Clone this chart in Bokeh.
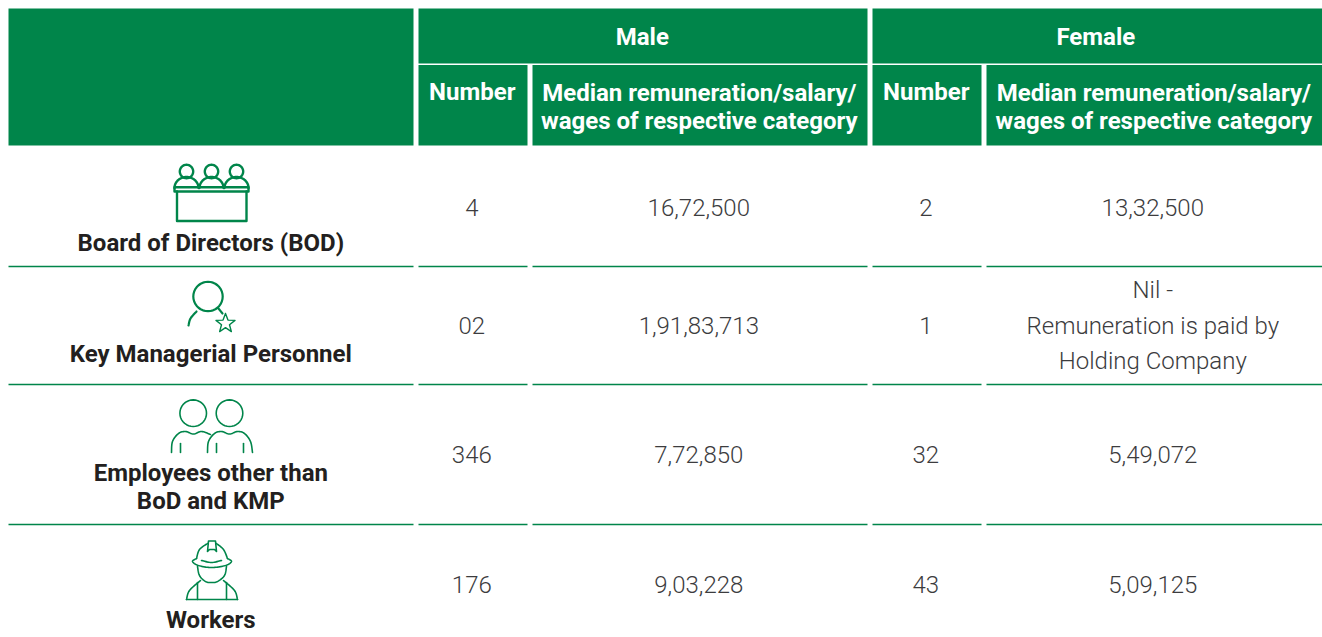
import math
from bokeh.plotting import figure
from bokeh.models import Range1d
from bokeh.core.properties import value
from bokeh.embed import file_html
from bokeh.resources import INLINE

# ---- table content ----
group_labels = ["Male", "Female"]
sub_number = "Number"
sub_median = ["Median remuneration/salary/", "wages of respective category"]
categories = [["Board of Directors (BOD)"], ["Key Managerial Personnel"],
              ["Employees other than", "BoD and KMP"], ["Workers"]]
male_number = ["4", "02", "346", "176"]
male_median = ["16,72,500", "1,91,83,713", "7,72,850", "9,03,228"]
female_number = ["2", "1", "32", "43"]
female_median = [["13,32,500"], ["Nil -", "Remuneration is paid by", "Holding Company"],
                 ["5,49,072"], ["5,09,125"]]

GREEN = "#00854a"
DARK = "#231f20"
GREY = "#3c3c3e"
FONT = "Roboto"
LIGHT_FONT = "Roboto Light, Roboto"
SIZE = 24

# ---- layout, in page pixels ----
col_edges = [(8, 413), (418, 527), (532, 867), (872, 981), (986, 1322)]
row_center = [206.5, 324.5, 453.5, 583.5]
row_rules = [266, 384, 524]
PW, PH = 1322, 637

p = figure(width=PW, height=PH, output_backend="svg", toolbar_location=None,
           x_range=Range1d(0, PW), y_range=Range1d(PH, 0),
           min_border=0, outline_line_color=None, background_fill_color="white",
           border_fill_color="white")
p.xaxis.visible = False
p.yaxis.visible = False
p.grid.visible = False


def label(x, y, s, color, bold=False):
    p.text([x - 0.7], [y], text=[s], text_font=value(FONT if bold else LIGHT_FONT),
           text_font_size=f"{SIZE}px",
           text_color=color, text_align="center", text_baseline="middle",
           text_font_style="bold" if bold else "normal")


def box(l, r, t, b, color=GREEN):
    p.quad(left=[l], right=[r], top=[t], bottom=[b], fill_color=color, line_color=None)


def stroke(xs, ys, w=2.4):
    p.line(xs, ys, line_color=GREEN, line_width=w, line_cap="round", line_join="round")


def arc(cx, cy, rx, ry, a0, a1, n=36):
    xs, ys = [], []
    for i in range(n + 1):
        a = math.radians(a0 + (a1 - a0) * i / n)
        xs.append(cx + rx * math.cos(a))
        ys.append(cy - ry * math.sin(a))
    return xs, ys


def smooth(pts, w=1.8, n=10):
    """Catmull-Rom curve through the given outline points of an icon."""
    P = [pts[0]] + list(pts) + [pts[-1]]
    xs, ys = [], []
    for i in range(1, len(P) - 2):
        for k in range(n + 1):
            t = k / n
            for out, d in ((xs, 0), (ys, 1)):
                a, b, c, e = P[i - 1][d], P[i][d], P[i + 1][d], P[i + 2][d]
                out.append(0.5 * (2 * b + (c - a) * t + (2 * a - 5 * b + 4 * c - e) * t * t
                                  + (3 * b - a - 3 * c + e) * t ** 3))
    stroke(xs, ys, w)


# header
box(8, 413, 8, 145)
box(418, 867, 8, 63)
box(872, 1322, 8, 63)
for l, r in col_edges[1:]:
    box(l, r, 64.5, 145)
label(642.5, 36, group_labels[0], "white", True)
label(1096, 36, group_labels[1], "white", True)
for (l, r) in (col_edges[1], col_edges[3]):
    label((l + r) / 2, 91.5, sub_number, "white", True)
for (l, r) in (col_edges[2], col_edges[4]):
    label((l + r) / 2, 92, sub_median[0], "white", True)
    label((l + r) / 2, 120, sub_median[1], "white", True)

# row rules
for y in row_rules:
    for l, r in col_edges:
        p.line([l, r], [y, y], line_color=GREEN, line_width=1.5)

# category labels
label(211, 242, categories[0][0], DARK, True)
label(211, 353, categories[1][0], DARK, True)
label(211, 472, categories[2][0], DARK, True)
label(211, 500, categories[2][1], DARK, True)
label(211, 619.5, categories[3][0], DARK, True)

# body values
for i in range(4):
    y = row_center[i]
    label(472, y, male_number[i], GREY)
    label(699, y, male_median[i], GREY)
    label(926, y, female_number[i], GREY)
    lines = female_median[i]
    if len(lines) == 1:
        label(1153, y, lines[0], GREY)
    else:
        for k, s in enumerate(lines):
            label(1153, 289.5 + k * 35.5, s, GREY)

# icon: board of directors
for cx in (186, 211, 236):
    stroke(*arc(cx, 171, 6.7, 6.7, 0, 360), 2.4)
    stroke(*arc(cx, 187.5, 12, 11, 0, 180), 2.4)
stroke([174, 248, 248, 174, 174], [186.7, 186.7, 191, 191, 186.7], 2.4)
stroke([176.5, 176.5, 246, 246], [191, 220.5, 220.5, 191], 2.4)

# icon: key managerial personnel
stroke(*arc(207.5, 296, 14.7, 14.7, 0, 360), 2.2)
smooth([(188, 325), (190, 318), (196, 311)], 2.2)
smooth([(218, 308), (222, 313)], 2.2)
star_x, star_y = [], []
for i in range(11):
    r = 10 if i % 2 == 0 else 4.2
    a = math.radians(90 + i * 36)
    star_x.append(225 + r * math.cos(a))
    star_y.append(323 - r * math.sin(a))
stroke(star_x, star_y, 1.4)

# icon: employees
for cx in (192.7, 229):
    stroke(*arc(cx, 412.7, 13.3, 13.3, 0, 360), 1.6)
smooth([(171, 452), (172, 441), (178, 433), (185, 431), (193, 433.5), (201, 431), (210, 434)], 1.6)
smooth([(207, 452), (208, 441), (214, 433), (221, 431), (229, 433.5), (237, 431),
        (244, 433), (250, 441), (252, 452)], 1.6)
for x in (180, 216, 243):
    stroke([x, x], [443, 452], 1.6)

# icon: worker
smooth([(196, 558), (199, 549), (207, 543)], 1.6)
smooth([(216, 543), (223, 549), (227, 558)], 1.6)
smooth([(196, 558), (192, 561), (198, 565), (211, 567), (225, 565), (231, 561), (227, 558)], 1.6)
smooth([(201, 560), (211, 562), (221, 560)], 1.6)
stroke([207, 208, 215, 216, 214, 209, 207], [551, 540.5, 540.5, 551, 549, 549, 551], 1.6)
smooth([(197, 566), (199, 575), (205, 581), (211, 582), (217, 581), (224, 575), (226, 566)], 1.6)
stroke([186, 237], [599, 599], 1.6)
smooth([(186, 599), (189, 590), (200, 580)], 1.6)
smooth([(223, 580), (234, 590), (237, 599)], 1.6)
stroke([197, 197], [582, 599], 1.6)
stroke([226, 226], [582, 599], 1.6)

open("out.html", "w").write(file_html(p, INLINE))
